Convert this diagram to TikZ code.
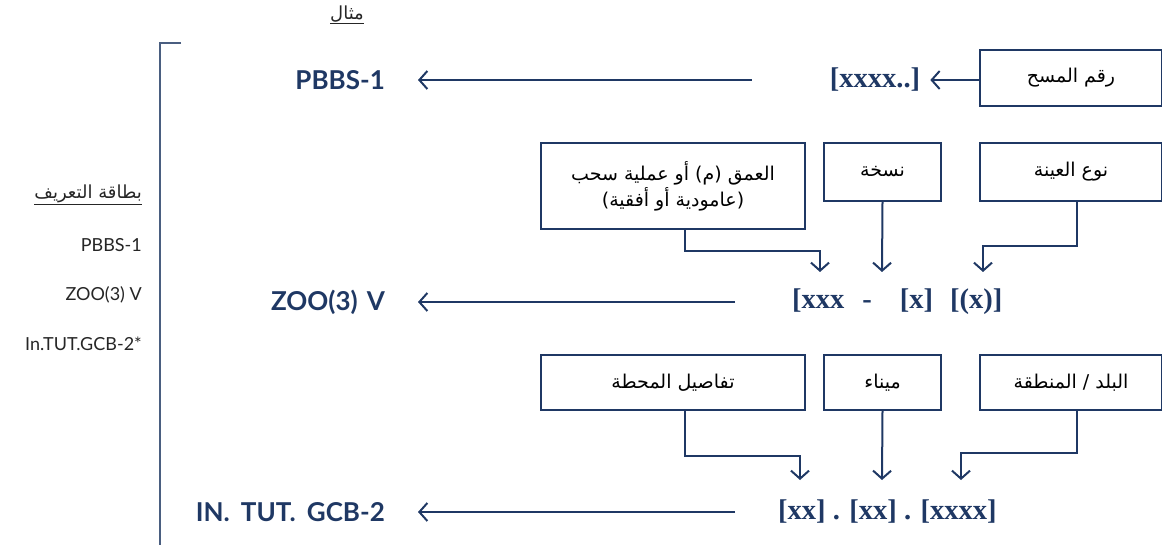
\documentclass[tikz,border=0pt]{standalone}
\usepackage{fontspec}
\setmainfont{Lato}
\newfontfamily\arabicfont[Script=Arabic]{DejaVu Sans}
\newfontfamily\codefont{Liberation Serif}
\TeXXeTstate=1
\usetikzlibrary{arrows.meta}
\definecolor{navy}{HTML}{1F3864}
\definecolor{brkcol}{HTML}{4A5E80}
\definecolor{txtgray}{HTML}{262626}
\tikzset{
  arr/.style={draw=navy, line width=2pt, -{Straight Barb[length=8pt,width=18pt,line width=2pt]}},
  boxn/.style={draw=navy, line width=2.2pt, inner sep=0pt, align=center, text=black,
     font=\arabicfont\fontsize{19}{26}\selectfont},
  lab/.style={inner sep=0pt, text=navy, font=\bfseries\fontsize{26}{30}\selectfont},
  code/.style={inner sep=0pt, text=navy, font=\codefont\bfseries\fontsize{28.5}{30}\selectfont},
  side/.style={inner sep=0pt, anchor=east, text=txtgray, font=\fontsize{18}{22}\selectfont},
  sidear/.style={inner sep=0pt, anchor=east, text=txtgray, font=\arabicfont\fontsize{18}{22}\selectfont},
  brk/.style={draw=brkcol, line width=1.3pt}
}
\begin{document}
\begin{tikzpicture}[x=1pt,y=-1pt]
\useasboundingbox (0,0) rectangle (1162,545);

% title
\node[sidear, anchor=center] (title) at (347,15) {\underline{\beginR مثال\endR}};

% left bracket
\draw[brk] (181,43) -- (160,43) -- (160,545);

% left legend
\node[sidear] (idcard) at (142,195) {\underline{\beginR بطاقة التعريف\endR}};
\node[side] (s1) at (142,245) {PBBS-1};
\node[side] (s2) at (142,295) {ZOO(3) V};
\node[side] (s3) at (142,344) {In.TUT.GCB-2*};

% row 1
\node[lab, anchor=east] (l1) at (385,80) {PBBS-1};
\node[code] (c1) at (875,80) {[xxxx..]};
\node[boxn, minimum width=182pt, minimum height=56pt] (r1box) at (1071,78) {\beginR رقم المسح\endR};
\draw[arr, shorten >=10pt] (c1.east -| r1box.west) -- (c1.east);
\draw[arr, shorten <=78pt, shorten >=33pt] (c1.west) -- (l1.east);

% row 2 boxes
\node[boxn, minimum width=264pt, minimum height=86pt] (b1) at (673,186)
  {\beginR العمق (م) أو عملية سحب\endR\\ \beginR (عامودية أو أفقية)\endR};
\node[boxn, minimum width=117pt, minimum height=58pt] (b2) at (882.5,172) {\beginR نسخة\endR};
\node[boxn, minimum width=182pt, minimum height=58pt] (b3) at (1071,172) {\beginR نوع العينة\endR};

\node[lab, anchor=east] (l2) at (385,302) {ZOO(3)\hspace{9pt}V};
\node[code, anchor=west] (c2) at (792,302) {[xxx\hspace{18pt}-\hspace{28pt}[x]\hspace{17pt}[(x)]};
\coordinate (t1) at (820,272);
\coordinate (t2) at (882,272);
\coordinate (t3) at (983,272);
\draw[arr] ([xshift=12pt]b1.south) -- ++(0,21) -| (t1);
\draw[arr] (b2.south) -- (t2);
\draw[arr] ([xshift=6pt]b3.south) -- ++(0,44) -| (t3);
\draw[arr, shorten <=57pt, shorten >=33pt] (c2.west) -- (l2.east);

% row 3 boxes
\node[boxn, minimum width=264pt, minimum height=55pt] (b4) at (673,382.5) {\beginR تفاصيل المحطة\endR};
\node[boxn, minimum width=117pt, minimum height=55pt] (b5) at (882.5,382.5) {\beginR ميناء\endR};
\node[boxn, minimum width=182pt, minimum height=55pt] (b6) at (1071,382.5) {\beginR البلد / المنطقة\endR};

\node[lab, anchor=east] (l3) at (385,512) {IN.\hspace{11pt}TUT.\hspace{11pt}GCB-2};
\node[code, anchor=west] (c3) at (778,512) {[xx] . [xx] . [xxxx]};
\coordinate (t4) at (800,480);
\coordinate (t5) at (882,480);
\coordinate (t6) at (961,480);
\draw[arr] ([xshift=12pt]b4.south) -- ++(0,45) -| (t4);
\draw[arr] (b5.south) -- (t5);
\draw[arr] ([xshift=6pt]b6.south) -- ++(0,42) -| (t6);
\draw[arr, shorten <=43pt, shorten >=33pt] (c3.west) -- (l3.east);
\end{tikzpicture}
\end{document}
